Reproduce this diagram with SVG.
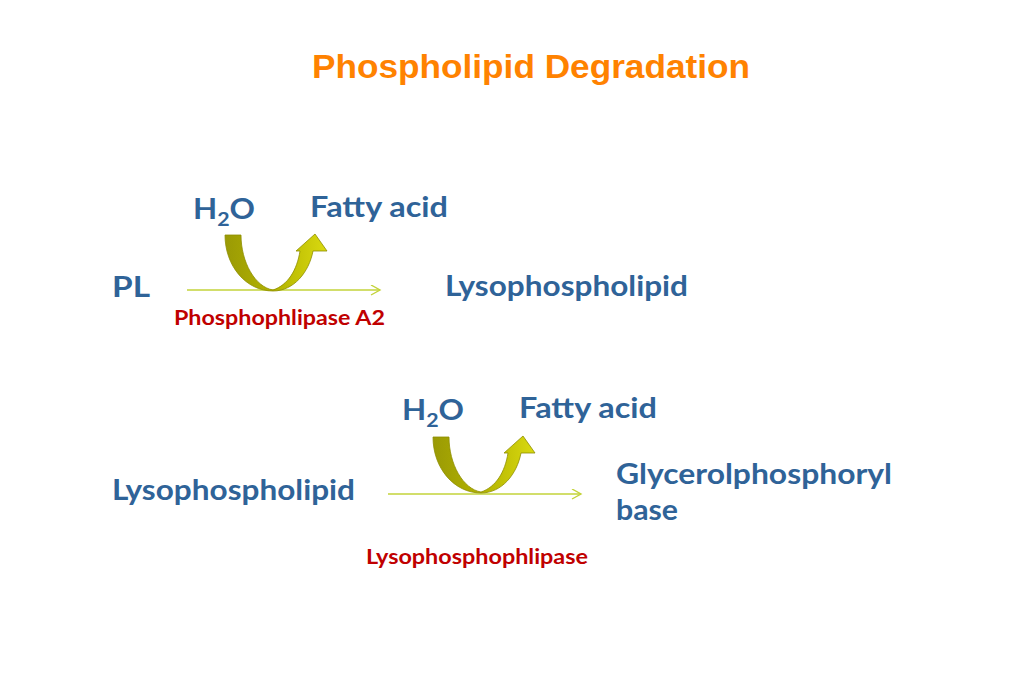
<svg xmlns="http://www.w3.org/2000/svg" width="1024" height="683" viewBox="0 0 1024 683">
<style>
.title{font-family:"Liberation Sans",Arial,sans-serif;font-weight:bold;font-size:34px;fill:#FF8200}
.lbl{font-family:Lato,"Open Sans",sans-serif;font-weight:bold;font-size:28px;fill:#2F6398}
.sub{font-size:19px}
.enz{font-family:Lato,"Open Sans",sans-serif;font-weight:bold;font-size:20px;fill:#C00000}
.rx{stroke:#C3D33A;stroke-width:1.6;fill:none}
</style>
<defs>
<linearGradient id="g" x1="0" y1="0" x2="1" y2="0">
<stop offset="0" stop-color="#9A9A05"/>
<stop offset="0.5" stop-color="#B4B400"/>
<stop offset="1" stop-color="#DADA10"/>
</linearGradient>
<marker id="ah" markerWidth="12" markerHeight="12" refX="10" refY="5" orient="auto" markerUnits="userSpaceOnUse">
<path d="M1,0 L10,5 L1,10" fill="none" stroke="#C3D33A" stroke-width="1.4"/>
</marker>
<path id="curl" d="M225,235 C225,266 246,291 273,291 C294,291 309,272 313,251 L327,251 L315,234 L296,251 L300,251 C297,270 288,285 273,290 C255,287 241,262 241,235 Z" fill="url(#g)" stroke="#8E8E00" stroke-width="0.8"/>
</defs>
<text class="title" x="312" y="78" textLength="438" lengthAdjust="spacingAndGlyphs">Phospholipid Degradation</text>
<g id="connectors">
<line class="rx" x1="187" y1="290" x2="380" y2="290" marker-end="url(#ah)"/>
<line class="rx" x1="388" y1="494" x2="581" y2="494" marker-end="url(#ah)"/>
</g>
<g id="curl1"><use href="#curl"/></g>
<g id="curl2"><use href="#curl" transform="translate(208,202)"/></g>
<g id="h2o1"><text class="lbl" x="193" y="219" textLength="62" lengthAdjust="spacingAndGlyphs">H<tspan class="sub" dy="7">2</tspan><tspan dy="-7">O</tspan></text></g>
<g id="fa1"><text class="lbl" x="310" y="217" textLength="138" lengthAdjust="spacingAndGlyphs">Fatty acid</text></g>
<g id="pl"><text class="lbl" x="112" y="297" textLength="38" lengthAdjust="spacingAndGlyphs">PL</text></g>
<g id="lyso1"><text class="lbl" x="445" y="296" textLength="243" lengthAdjust="spacingAndGlyphs">Lysophospholipid</text></g>
<g id="enz1"><text class="enz" x="174" y="325" textLength="211" lengthAdjust="spacingAndGlyphs">Phosphophlipase A2</text></g>
<g id="h2o2"><text class="lbl" x="402" y="420" textLength="62" lengthAdjust="spacingAndGlyphs">H<tspan class="sub" dy="7">2</tspan><tspan dy="-7">O</tspan></text></g>
<g id="fa2"><text class="lbl" x="519" y="418" textLength="138" lengthAdjust="spacingAndGlyphs">Fatty acid</text></g>
<g id="lyso2"><text class="lbl" x="112" y="500" textLength="243" lengthAdjust="spacingAndGlyphs">Lysophospholipid</text></g>
<g id="gpb"><text class="lbl" x="616" y="484" textLength="276" lengthAdjust="spacingAndGlyphs">Glycerolphosphoryl</text><text class="lbl" x="616" y="520" textLength="62" lengthAdjust="spacingAndGlyphs">base</text></g>
<g id="enz2"><text class="enz" x="366" y="564" textLength="222" lengthAdjust="spacingAndGlyphs">Lysophosphophlipase</text></g>
</svg>
